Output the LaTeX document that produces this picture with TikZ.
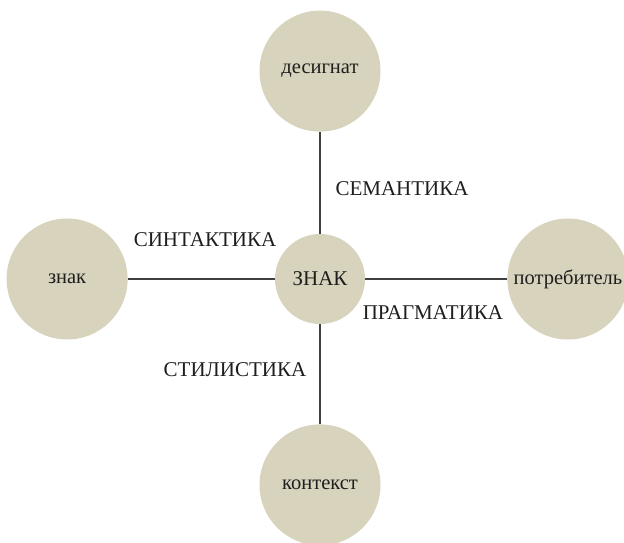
\documentclass[tikz,border=0pt]{standalone}
\usepackage{fontspec}
\setmainfont{Liberation Serif}
\usepackage{xcolor}
\usetikzlibrary{positioning}
\definecolor{disc}{HTML}{D7D3BC}
\definecolor{ink}{HTML}{1E1E1E}

\begin{document}
\begin{tikzpicture}[x=1pt, y=1pt, node distance=102pt and 145pt,
  big/.style={circle, fill=disc, minimum size=121pt, inner sep=0pt, text=ink, font=\fontsize{20.5}{22}\selectfont},
  hub/.style={circle, fill=disc, minimum size=90pt, inner sep=0pt, text=ink, font=\fontsize{21}{23}\selectfont},
  tag/.style={text=ink, inner sep=0pt, font=\fontsize{21}{23}\selectfont},
  link/.style={draw=ink!85, line width=1.3pt}]
\useasboundingbox (0,0) rectangle (624,-542);
\node[hub] (sign) at (320,-279) {ЗНАК};
\node[big, above=of sign] (desig) {десигнат};
\node[big, below=100pt of sign] (context) {контекст};
\node[big, left=147pt of sign] (sym) {знак};
\node[big, right=142pt of sign] (user) {потребитель};
\draw[link] (sign) -- (desig);
\draw[link] (sign) -- (context);
\draw[link] (sign) -- (sym);
\draw[link] (sign) -- (user);
\node[tag] (sem) at (402,-189) {СЕМАНТИКА};
\node[tag] (syn) at (205,-240) {СИНТАКТИКА};
\node[tag] (prag) at (433,-313) {ПРАГМАТИКА};
\node[tag] (styl) at (235,-370) {СТИЛИСТИКА};
\end{tikzpicture}
\end{document}
